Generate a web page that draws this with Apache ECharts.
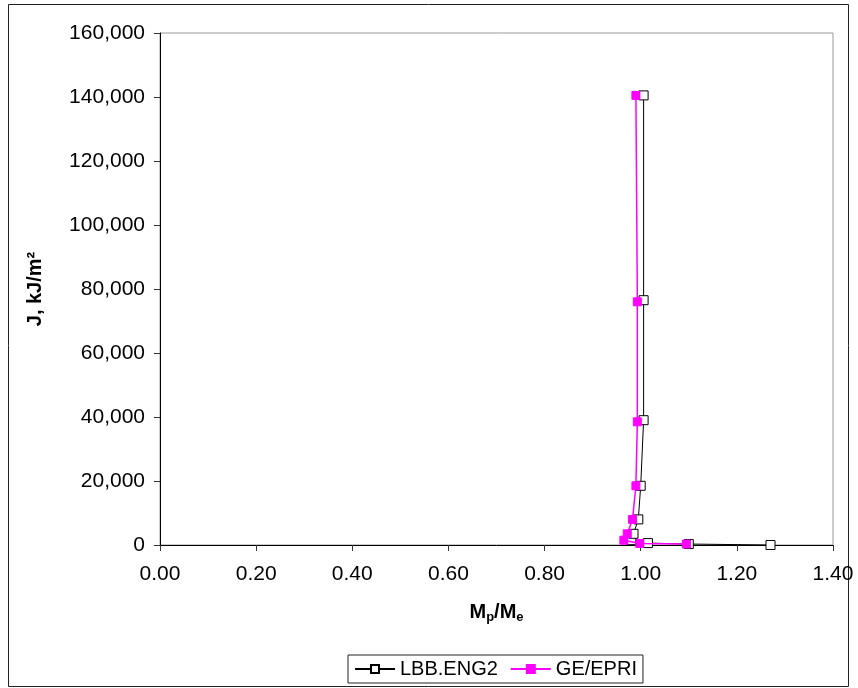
<!DOCTYPE html>
<html>
<head>
<meta charset="utf-8">
<script src="https://cdn.jsdelivr.net/npm/echarts@6/dist/echarts.min.js"></script>
<style>
  html, body { margin: 0; padding: 0; background: #fff; }
  #chart { width: 858px; height: 688px; }
</style>
</head>
<body>
<div id="chart"></div>
<script>
// Mp/Me ratio against J-integral for the two estimation schemes
const lbbRatio = [1.27, 1.10, 1.015, 0.98, 0.985, 0.995, 1.0, 1.006, 1.006, 1.006];
const lbbJ     = [0, 300, 600, 1500, 3500, 8000, 18500, 39000, 76500, 140500];
const geRatio  = [1.095, 0.998, 0.965, 0.972, 0.983, 0.99, 0.993, 0.993, 0.99];
const geJ      = [300, 500, 1500, 3500, 8000, 18500, 38500, 76000, 140500];

const xTicks = { min: 0, max: 1.4, step: 0.2 };
const yTicks = { min: 0, max: 160000, step: 20000 };

const pairs = (xs, ys) => xs.map((x, i) => [x, ys[i]]);
const FONT = '"Liberation Sans", Arial, sans-serif';

const chart = echarts.init(document.getElementById('chart'), null, { renderer: 'canvas' });
chart.setOption({
  animation: false,
  backgroundColor: '#fff',
  textStyle: { fontFamily: FONT },
  graphic: [{
    type: 'rect',
    shape: { x: 8.5, y: 4.5, width: 840, height: 682 },
    style: { fill: 'none', stroke: '#222', lineWidth: 1 },
    silent: true
  }],
  grid: {
    left: 160, top: 33, right: 25, bottom: 143,
    show: true, borderColor: '#9a9a9a', borderWidth: 1, backgroundColor: 'transparent'
  },
  legend: {
    bottom: 5, left: 348,
    itemWidth: 40, itemHeight: 10, itemGap: 12,
    padding: [4, 6, 4, 6],
    borderColor: '#222', borderWidth: 1, borderRadius: 0,
    textStyle: { fontFamily: FONT, fontSize: 20, color: '#000' },
    data: ['LBB.ENG2', 'GE/EPRI']
  },
  xAxis: {
    type: 'value',
    min: xTicks.min, max: xTicks.max, interval: xTicks.step,
    splitLine: { show: false },
    axisLine: { onZero: false, lineStyle: { color: '#000', width: 1 } },
    axisTick: { show: true, inside: false, length: 6, lineStyle: { color: '#333' } },
    axisLabel: { margin: 19, fontSize: 21, color: '#000', fontFamily: FONT,
      formatter: v => v.toFixed(2) },
    name: '{b|M}{s|p}{b|/M}{s|e}',
    nameLocation: 'middle', nameGap: 55,
    nameTextStyle: {
      rich: {
        b: { fontFamily: FONT, fontSize: 20, fontWeight: 'bold', color: '#000', lineHeight: 24 },
        s: { fontFamily: FONT, fontSize: 13, fontWeight: 'bold', color: '#000', padding: [10, 0, 0, 0], lineHeight: 24 }
      }
    }
  },
  yAxis: {
    type: 'value',
    min: yTicks.min, max: yTicks.max, interval: yTicks.step,
    splitLine: { show: false },
    axisLine: { show: true, lineStyle: { color: '#000', width: 1 } },
    axisTick: { show: true, inside: false, length: 6, lineStyle: { color: '#333' } },
    axisLabel: { margin: 15, fontSize: 21, color: '#000', fontFamily: FONT,
      formatter: v => v.toLocaleString('en-US') },
    name: 'J, kJ/m²',
    nameLocation: 'middle', nameGap: 115, nameRotate: 90,
    nameTextStyle: { fontFamily: FONT, fontSize: 20, fontWeight: 'bold', color: '#000' }
  },
  series: [
    {
      name: 'LBB.ENG2', type: 'line',
      data: pairs(lbbRatio, lbbJ),
      symbol: 'rect', symbolSize: 9, showAllSymbol: true,
      lineStyle: { color: '#000', width: 1 },
      itemStyle: { color: '#fff', borderColor: '#000', borderWidth: 1 },
      z: 2
    },
    {
      name: 'GE/EPRI', type: 'line',
      data: pairs(geRatio, geJ),
      symbol: 'rect', symbolSize: 8, showAllSymbol: true,
      lineStyle: { color: '#ff00ff', width: 1.5 },
      itemStyle: { color: '#ff00ff', borderColor: '#ff00ff', borderWidth: 1 },
      z: 3
    }
  ]
});
</script>
</body>
</html>
